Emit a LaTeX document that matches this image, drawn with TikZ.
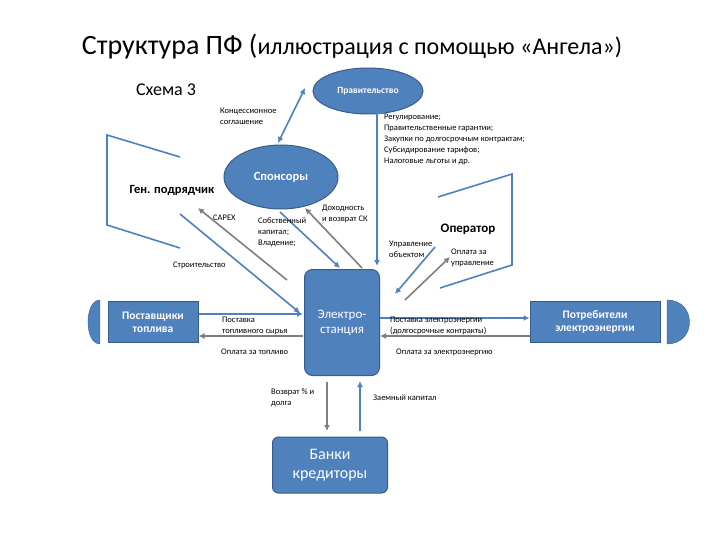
\documentclass[tikz,border=0pt]{standalone}
\usepackage{fontspec}
\setmainfont{Carlito}
\usetikzlibrary{shapes.geometric,arrows.meta}
\definecolor{bfill}{HTML}{4F81BD}
\definecolor{bdraw}{HTML}{385D8A}
\definecolor{agray}{HTML}{7F7F7F}
\tikzset{x=1pt,y=-1pt,
 ell/.style={ellipse,fill=bfill,draw=bdraw,line width=1pt,text=white,font=\bfseries},
 box/.style={rectangle,fill=bfill,draw=bdraw,line width=1pt,text=white,align=center},
 barr/.style={draw=bfill,line width=1.6pt,-{Latex[length=6pt,width=6pt]}},
 garr/.style={draw=agray,line width=1.6pt,-{Latex[length=6pt,width=6pt]}},
 bline/.style={draw=bfill,line width=1.6pt},
 lbl/.style={font=\fontsize{8.5}{11}\selectfont,align=left,inner sep=0pt}}
\begin{document}
\begin{tikzpicture}
\useasboundingbox[fill=white] (0,0) rectangle (720,540);
\node (title) at (352,47) {\fontsize{28}{32}\selectfont Структура ПФ (\fontsize{24}{28}\selectfont иллюстрация с помощью «Ангела»)};
\node (sch) at (166,90) {\fontsize{18}{21}\selectfont Схема 3};
\node[ell,minimum width=110pt,minimum height=46pt,font=\bfseries\fontsize{9.5}{11}\selectfont] (gov) at (368,91) {Правительство};
\node[ell,minimum width=114pt,minimum height=64pt,font=\bfseries\fontsize{12.5}{14}\selectfont] (spon) at (281,177) {Спонсоры};
\node[font=\bfseries\fontsize{12.5}{14}\selectfont] (gen) at (172,190) {Ген. подрядчик};
\node[font=\bfseries\fontsize{13}{15}\selectfont] (oper) at (468,229) {Оператор};
\node[box,rounded corners=8pt,minimum width=75pt,minimum height=106pt,anchor=north west,font=\fontsize{13}{15}\selectfont] (st) at (304,269) {Электро-\\станция};
\node[box,minimum width=90pt,minimum height=41pt,font=\bfseries\fontsize{11.5}{13}\selectfont] (sup) at (153,322) {Поставщики\\топлива};
\node[box,minimum width=130pt,minimum height=41pt,font=\bfseries\fontsize{11.5}{13}\selectfont] (con) at (595,322) {Потребители\\электроэнергии};
\node[box,rounded corners=6pt,minimum width=115pt,minimum height=56pt,font=\fontsize{16}{19}\selectfont] (bank) at (330,465) {Банки\\кредиторы};
% half discs
\coordinate (ld1) at (100,300); \coordinate (ld2) at (100,344);
\fill[bfill,draw=bdraw] (ld1) .. controls (84,300) and (84,344) .. (ld2) -- cycle;
\coordinate (rd1) at (667,300); \coordinate (rd2) at (667,344);
\fill[bfill,draw=bdraw] (rd1) .. controls (697,300) and (697,344) .. (rd2) -- cycle;
% brackets
\coordinate (g1) at (180,157); \coordinate (g2) at (107,135); \coordinate (g3) at (107,225); \coordinate (g4) at (180,248);
\draw[bline] (g1)--(g2)--(g3)--(g4);
\coordinate (o1) at (438,197); \coordinate (o2) at (512,174); \coordinate (o3) at (512,265); \coordinate (o4) at (440,288);
\draw[bline] (o1)--(o2)--(o3)--(o4);
% arrows
\draw[bline,{Latex[length=6pt,width=6pt]}-{Latex[length=6pt,width=6pt]}] (278,143) -- (305,88);
\coordinate (gv1) at (384,113); \coordinate (gv2) at (377,113);
\draw[barr] (gv1) -- (gv2) -- (377,266);
\coordinate (cx1) at (287,280); \coordinate (cx2) at (198,208);
\draw[garr] (cx1) -- (cx2);
\coordinate (bu1) at (180,214);
\draw[barr] (bu1) -- (300,313);
\draw[barr] (280,212) -- (340,268);
\draw[garr] (362,268) -- (305,208);
\coordinate (op1) at (435,247);
\draw[barr] (op1) -- (395,294);
\draw[garr] (405,300) -- (450,257);
\draw[barr] (sup.east|-0,314) -- (303,314);
\draw[garr] (303,336) -- (sup.east|-0,336);
\draw[barr] (380,318) -- (con.west|-0,318);
\draw[garr] (con.west|-0,336) -- (380,336);
\draw[garr] (327,382) -- (327,431);
\draw[barr] (360,431) -- (360,381);
% labels
\node[lbl,anchor=west] (l1) at (220,116) {Концессионное\\соглашение};
\node[lbl,anchor=north west] (l2) at (384,114) {Регулирование;\\Правительственные гарантии;\\Закупки по долгосрочным контрактам;\\Субсидирование тарифов;\\Налоговые льготы и др.};
\node[lbl,anchor=west] (l3) at (213,218) {CAPEX};
\node[lbl,anchor=north west] (l4) at (258,218) {Собственный\\капитал;\\Владение;};
\node[lbl,anchor=west] (l5) at (322,214) {Доходность\\и возврат СК};
\node[lbl,anchor=west] (l6) at (173,265) {Строительство};
\node[lbl,anchor=west] (l7) at (389,249) {Управление\\объектом};
\node[lbl,anchor=west] (l8) at (451,258) {Оплата за\\управление};
\node[lbl,anchor=west] (l9) at (222,326) {Поставка\\топливного сырья};
\node[lbl,anchor=west] (l10) at (221,352) {Оплата за топливо};
\node[lbl,anchor=west] (l11) at (390,326) {Поставка электроэнергии\\(долгосрочные контракты)};
\node[lbl,anchor=west] (l12) at (396,352) {Оплата за электроэнергию};
\node[lbl,anchor=west] (l13) at (271,398) {Возврат \% и\\долга};
\node[lbl,anchor=west] (l14) at (373,398) {Заемный капитал};
\end{tikzpicture}
\end{document}
